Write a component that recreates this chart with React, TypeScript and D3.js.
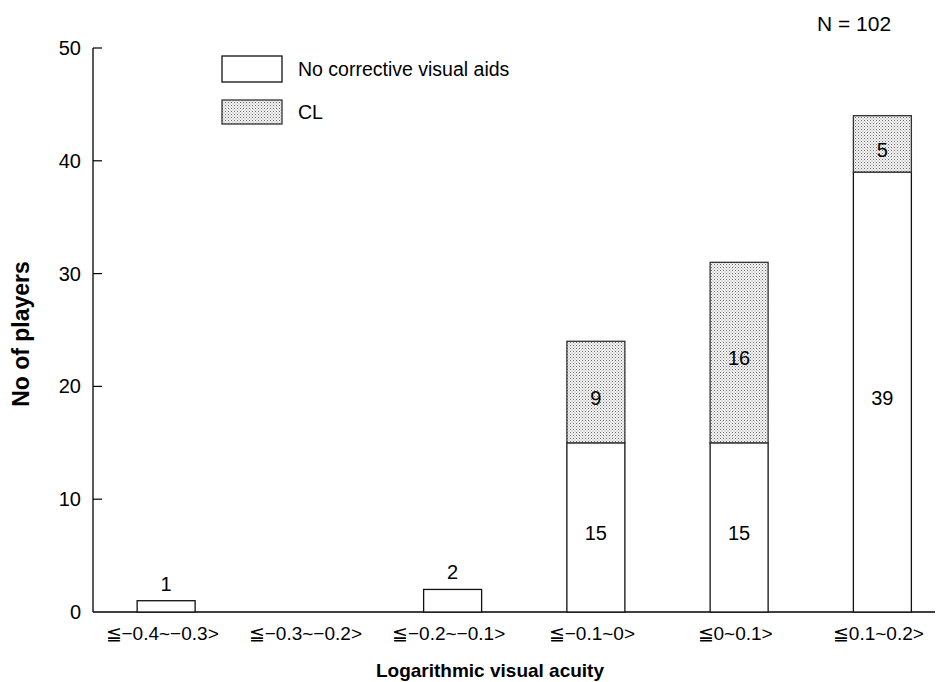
import React from "react";
import * as d3 from "d3";

const categories = [
  "≦−0.4~−0.3>",
  "≦−0.3~−0.2>",
  "≦−0.2~−0.1>",
  "≦−0.1~0>",
  "≦0~0.1>",
  "≦0.1~0.2>",
];
const noAids = [1, 0, 2, 15, 15, 39];
const clValues = [0, 0, 0, 9, 16, 5];
const yTicks = [0, 10, 20, 30, 40, 50];

const W = 938;
const H = 682;
const left = 93;
const top = 48;
const bottom = 612;
const font = "'Liberation Sans', Arial, sans-serif";

const App: React.FC = () => {
  const x = d3.scaleBand<string>().domain(categories).range([94.5, 954]).padding(0);
  const y = d3.scaleLinear().domain([0, 50]).range([bottom, top]);
  const barW = 58;

  return (
    <svg
      width={W}
      height={H}
      style={{ position: "absolute", left: 0, top: 0, background: "#fff" }}
      fontFamily={font}
    >
      <defs>
        <pattern id="dots" width="3" height="3" patternUnits="userSpaceOnUse">
          <rect width="3" height="3" fill="#f4f4f4" />
          <rect x="0" y="0" width="1" height="1" fill="#6a6a6a" />
          <rect x="1.5" y="1.5" width="1" height="1" fill="#9a9a9a" />
        </pattern>
      </defs>

      {/* axes */}
      <line x1={left} x2={left} y1={top} y2={bottom} stroke="#000" strokeWidth={1.3} />
      <line x1={left} x2={935} y1={bottom} y2={bottom} stroke="#000" strokeWidth={1.3} />
      {yTicks.map((t) => (
        <g key={t}>
          {t > 0 && (
            <line x1={left} x2={left + 9} y1={y(t)} y2={y(t)} stroke="#000" strokeWidth={1.2} />
          )}
          <text x={81} y={y(t)} dy="0.35em" textAnchor="end" fontSize={20}>
            {t}
          </text>
        </g>
      ))}

      {/* bars */}
      {categories.map((c, i) => {
        const cx = x(c)! + x.bandwidth() / 2;
        const a = noAids[i];
        const b = clValues[i];
        return (
          <g key={c}>
            {a > 0 && (
              <rect
                x={cx - barW / 2}
                y={y(a)}
                width={barW}
                height={y(0) - y(a)}
                fill="#fff"
                stroke="#111"
                strokeWidth={1.3}
              />
            )}
            {b > 0 && (
              <rect
                x={cx - barW / 2}
                y={y(a + b)}
                width={barW}
                height={y(a) - y(a + b)}
                fill="url(#dots)"
                stroke="#333"
                strokeWidth={1.3}
              />
            )}
            {a > 0 && i < 3 && (
              <text x={cx} y={y(a) - 10} textAnchor="middle" fontSize={20}>
                {a}
              </text>
            )}
            {a > 0 && i >= 3 && (
              <text x={cx} y={y(a / 2 - 0.5)} dy="0.35em" textAnchor="middle" fontSize={20}>
                {a}
              </text>
            )}
            {b > 0 && (
              <text x={cx} y={y(a + b / 2 - 0.5)} dy="0.35em" textAnchor="middle" fontSize={20}>
                {b}
              </text>
            )}
            <text x={cx - 4} y={633} dy="0.35em" textAnchor="middle" fontSize={19}>
              {c}
            </text>
          </g>
        );
      })}

      {/* legend */}
      <rect x={222} y={56} width={60} height={26} fill="#fff" stroke="#111" strokeWidth={1.3} />
      <text x={298} y={69} dy="0.35em" fontSize={19.5}>
        No corrective visual aids
      </text>
      <rect x={222} y={100} width={60} height={24} fill="url(#dots)" stroke="#333" strokeWidth={1.3} />
      <text x={298} y={112} dy="0.35em" fontSize={19.5}>
        CL
      </text>

      <text x={817} y={24} dy="0.35em" fontSize={21}>
        N = 102
      </text>

      {/* axis titles */}
      <text x={490} y={670} dy="0.35em" textAnchor="middle" fontSize={19} fontWeight="bold">
        Logarithmic visual acuity
      </text>
      <text
        transform={`translate(21,334) rotate(-90)`}
        dy="0.35em"
        textAnchor="middle"
        fontSize={23}
        fontWeight="bold"
      >
        No of players
      </text>
    </svg>
  );
};

export default App;
